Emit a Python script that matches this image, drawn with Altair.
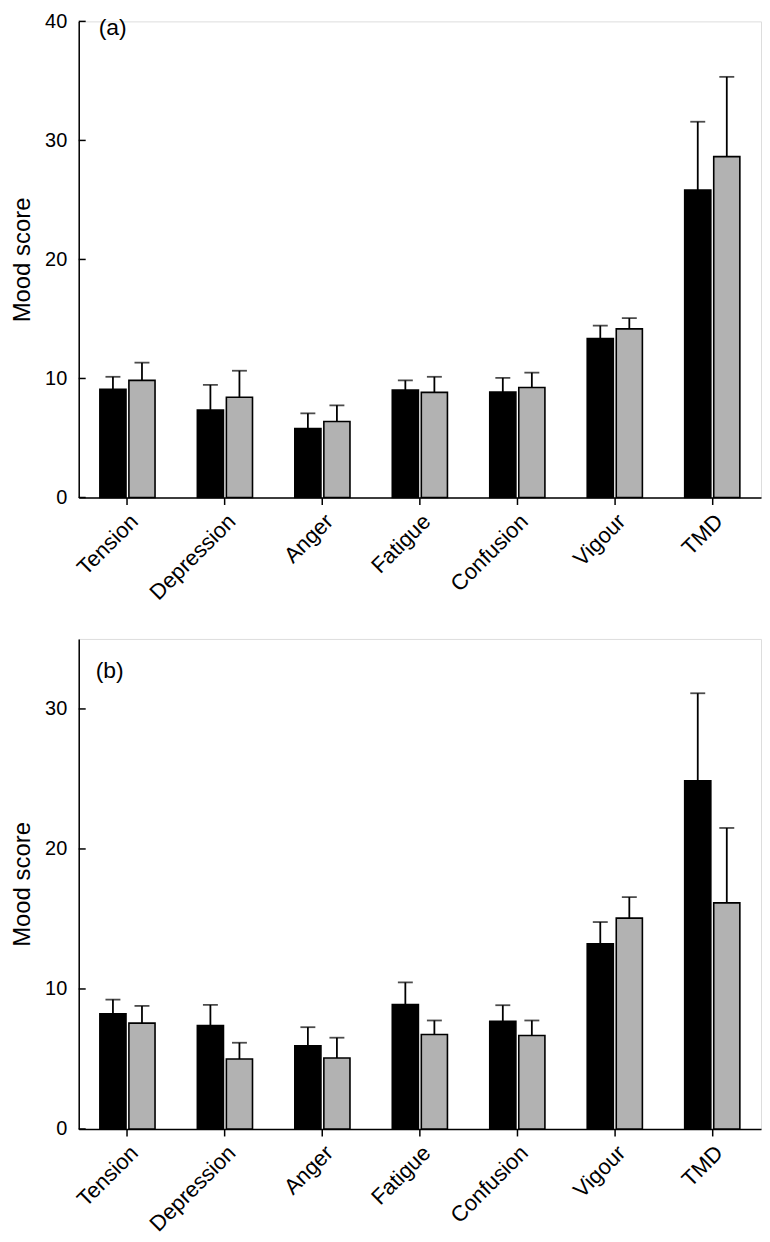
import altair as alt
import pandas as pd

FONT = "Liberation Sans"

categories = ["Tension", "Depression", "Anger", "Fatigue", "Confusion", "Vigour", "TMD"]
groups = ["Group 1", "Group 2"]

# Panel (a)
a_mean_1 = [9.10, 7.35, 5.80, 9.02, 8.86, 13.36, 25.83]
a_sd_1 = [1.04, 2.11, 1.27, 0.82, 1.19, 1.08, 5.74]
a_mean_2 = [9.84, 8.42, 6.39, 8.83, 9.24, 14.17, 28.64]
a_sd_2 = [1.49, 2.23, 1.35, 1.31, 1.25, 0.90, 6.70]

# Panel (b)
b_mean_1 = [8.22, 7.39, 5.95, 8.89, 7.70, 13.23, 24.87]
b_sd_1 = [1.02, 1.47, 1.32, 1.58, 1.14, 1.55, 6.25]
b_mean_2 = [7.56, 5.00, 5.07, 6.75, 6.68, 15.06, 16.15]
b_sd_2 = [1.23, 1.16, 1.45, 1.00, 1.07, 1.50, 5.35]

a_ticks = [0, 10, 20, 30, 40]
b_ticks = [0, 10, 20, 30]


def make_df(m1, s1, m2, s2):
    rows = []
    for c, m, s in zip(categories, m1, s1):
        rows.append({"category": c, "group": groups[0], "mean": m, "top": m + s})
    for c, m, s in zip(categories, m2, s2):
        rows.append({"category": c, "group": groups[1], "mean": m, "top": m + s})
    return pd.DataFrame(rows)


def panel(df, ymax, ticks, label, height, lx, ly):
    xaxis = alt.Axis(title=None, labelAngle=-45, labelAlign="right", labelBaseline="top",
                     labelFontSize=22, labelFont=FONT, labelColor="black", labelPadding=6,
                     tickSize=7, tickColor="black", tickWidth=1.5,
                     domainColor="black", domainWidth=1.5)
    xscale = alt.Scale(paddingInner=0.434, paddingOuter=0.217)
    x = alt.X("category:N", sort=categories, scale=xscale, axis=xaxis)
    xo = alt.XOffset("group:N", sort=groups, scale=alt.Scale(paddingInner=0.1, paddingOuter=0))
    yscale = alt.Scale(domain=[0, ymax], nice=False, zero=True)
    yaxis = alt.Axis(title="Mood score", values=ticks, ticks=False, grid=False,
                     labelFontSize=20, labelFont=FONT, labelColor="black", labelPadding=12,
                     titleFontSize=24, titleFont=FONT, titleFontWeight="normal",
                     titleColor="black", titlePadding=10,
                     domainColor="black", domainWidth=1.5)

    err = alt.Chart(df).mark_rule(color="black", strokeWidth=1.8).encode(
        x=x, xOffset=xo,
        y=alt.Y("mean:Q", scale=yscale, axis=yaxis), y2="top:Q")
    cap = alt.Chart(df).mark_tick(color="black", thickness=1.8, size=15).encode(
        x=x, xOffset=xo,
        y=alt.Y("top:Q", scale=yscale, axis=yaxis))
    bars = alt.Chart(df).mark_bar(stroke="black", strokeWidth=1.6).encode(
        x=x, xOffset=xo,
        y=alt.Y("mean:Q", scale=yscale, axis=yaxis),
        color=alt.Color("group:N", scale=alt.Scale(domain=groups, range=["#000000", "#b2b2b2"]),
                        legend=None))
    tdf = pd.DataFrame({"v": ticks})
    yticks = alt.Chart(tdf).mark_rule(color="black", strokeWidth=1.5).encode(
        y=alt.Y("v:Q", scale=yscale, axis=yaxis), x=alt.value(0), x2=alt.value(7))
    ldf = pd.DataFrame({"t": [label]})
    lab = alt.Chart(ldf).mark_text(align="left", baseline="middle", fontSize=23,
                                   font=FONT, color="black").encode(
        x=alt.value(lx), y=alt.value(ly), text="t:N")
    return alt.layer(err, cap, bars, yticks, lab).properties(width=685, height=height)


pa = panel(make_df(a_mean_1, a_sd_1, a_mean_2, a_sd_2), 40, a_ticks, "(a)", 478, 20, 7)
pb = panel(make_df(b_mean_1, b_sd_1, b_mean_2, b_sd_2), 35, b_ticks, "(b)", 492, 17, 32)

chart = alt.vconcat(pa, pb, spacing=33).properties(
    padding={"top": 0, "left": 2, "right": 0, "bottom": 0}
).configure_view(stroke=None).configure(font=FONT)

chart.save("out.html", embed_options={"renderer": "svg", "actions": False})
